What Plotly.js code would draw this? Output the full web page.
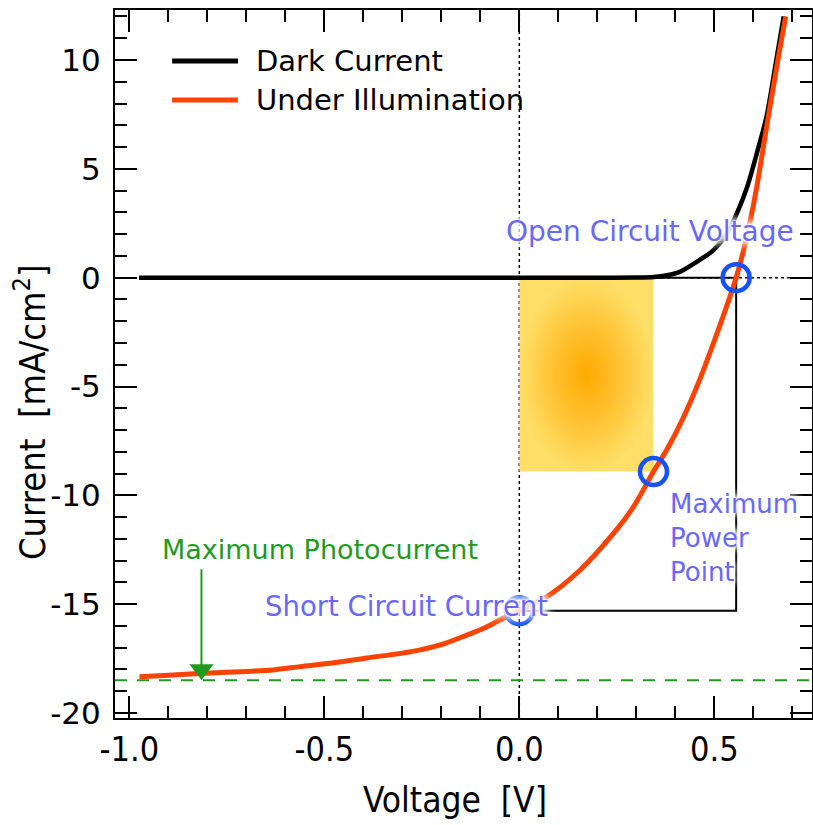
<!DOCTYPE html>
<html>
<head>
<meta charset="utf-8">
<script src="https://cdn.plot.ly/plotly-3.0.1.min.js"></script>
<style>
  html, body { margin: 0; padding: 0; background: #fff; }
  #chart { width: 813px; height: 825px; }
</style>
</head>
<body>
<div id="chart"></div>
<script>
// Solar cell I–V characteristics: dark current and current under illumination
const seriesNames = ['Dark Current', 'Under Illumination'];

const darkV = [-0.975, -0.8, -0.6, -0.4, -0.2, 0.0, 0.2, 0.3, 0.345, 0.379, 0.413, 0.456, 0.498, 0.533, 0.558, 0.584, 0.618, 0.634, 0.659, 0.678];
const darkI = [0, 0, 0, 0, 0, 0, 0, 0.005, 0.03, 0.11, 0.28, 0.74, 1.27, 2.04, 2.96, 4.15, 6.3, 7.4, 10.0, 12.0];

const lightV = [-0.974, -0.9, -0.792, -0.7, -0.631, -0.562, -0.47, -0.39, -0.3, -0.254, -0.19, -0.133, -0.09, -0.049, 0.0, 0.071, 0.156, 0.242, 0.293, 0.344, 0.38, 0.42, 0.46, 0.50, 0.53, 0.556, 0.575, 0.592, 0.609, 0.637, 0.665, 0.683];
const lightI = [-18.33, -18.27, -18.16, -18.09, -18.02, -17.87, -17.68, -17.47, -17.25, -17.10, -16.80, -16.41, -16.10, -15.72, -15.30, -14.65, -13.43, -11.74, -10.52, -8.91, -7.85, -6.45, -4.8, -2.9, -1.4, 0.0, 1.25, 2.6, 4.18, 7.24, 10.2, 12.0];

// Characteristic points of the illuminated curve
const Voc = 0.556;     // open circuit voltage [V]
const Isc = -15.3;     // short circuit current [mA/cm2]
const Vmp = 0.344;     // maximum power point voltage
const Imp = -8.91;     // maximum power point current
const Iph = -18.5;     // maximum photocurrent level
const photoArrowV = -0.815;
const photoArrowTail = -13.4;

const xTickVals = [-1.0, -0.5, 0.0, 0.5];
const xTickText = ['-1.0', '-0.5', '0.0', '0.5'];
const yTickVals = [10, 5, 0, -5, -10, -15, -20];
const yTickText = ['10', '5', '0', '-5', '-10', '-15', '-20'];

const xTitle = 'Voltage  [V]';
const yTitle = 'Current  [mA/cm<sup>2</sup>]';
const labelOC = 'Open Circuit Voltage';
const labelMP = 'Maximum<br>Power<br>Point';
const labelSC = 'Short Circuit Current';
const labelPh = 'Maximum Photocurrent';

const BLACK = '#000000';
const RED = '#ff4200';
const BLUE_RING = '#1652ff';
const BLUE_TEXT = '#6868ff';
const GREEN = '#1f9a1f';

const mainFont = 'DejaVu Sans, Verdana, sans-serif';
const narrowFont = 'DejaVu Sans Condensed, Liberation Sans Narrow, Roboto Condensed, Roboto, sans-serif';
const halo = '0 0 2px #fff, 0 0 2px #fff, 0 0 4px #fff, 0 0 6px #fff, 0 0 8px #fff, 0 0 10px #fff, 0 0 12px #fff, 0 0 14px #fff';

// arrowhead sits just above the photocurrent level
const headOffset = 0.5;

const traces = [
  {
    // power rectangle between origin and maximum power point
    x: [0, Vmp, Vmp, 0, 0],
    y: [0, 0, Imp, Imp, 0],
    mode: 'lines',
    line: { width: 0 },
    fill: 'toself',
    fillgradient: {
      type: 'radial',
      colorscale: [[0, '#ffaa00'], [0.5, '#ffc232'], [1, '#ffdf68']]
    },
    hoverinfo: 'skip',
    showlegend: false
  },
  {
    x: darkV, y: darkI, name: seriesNames[0],
    mode: 'lines',
    line: { color: BLACK, width: 4.5, shape: 'spline', smoothing: 0.8 },
    showlegend: false
  },
  {
    x: lightV, y: lightI, name: seriesNames[1],
    mode: 'lines',
    line: { color: RED, width: 5, shape: 'spline', smoothing: 0.8 },
    showlegend: false
  },
  {
    x: [Voc, Vmp, 0],
    y: [0, Imp, Isc],
    mode: 'markers',
    marker: { symbol: 'circle-open', size: 27, color: BLUE_RING, line: { width: 4.5, color: BLUE_RING } },
    showlegend: false
  },
  {
    // arrowhead marking the photocurrent level
    x: [photoArrowV], y: [Iph + headOffset],
    mode: 'markers',
    marker: { symbol: 'triangle-down', size: 21, color: GREEN },
    showlegend: false
  }
];

const shapes = [
  // zero lines
  { type: 'line', layer: 'below', xref: 'x', yref: 'paper', x0: 0, x1: 0, y0: 0, y1: 1,
    line: { color: BLACK, width: 1.5, dash: 'dot' } },
  { type: 'line', layer: 'below', xref: 'paper', yref: 'y', x0: 0, x1: 1, y0: 0, y1: 0,
    line: { color: BLACK, width: 1.5, dash: 'dot' } },
  // Voc / Isc rectangle
  { type: 'path', layer: 'below', xref: 'x', yref: 'y',
    path: `M 0,0 L ${Voc},0 L ${Voc},${Isc} L 0,${Isc}`,
    line: { color: BLACK, width: 2 } },
  // photocurrent level
  { type: 'line', layer: 'below', xref: 'paper', yref: 'y', x0: 0, x1: 1, y0: Iph, y1: Iph,
    line: { color: GREEN, width: 2, dash: '12px,10px' } },
  // arrow shaft
  { type: 'line', xref: 'x', yref: 'y', x0: photoArrowV, x1: photoArrowV, y0: photoArrowTail, y1: Iph + headOffset,
    line: { color: GREEN, width: 2 } },
  // legend samples
  { type: 'line', xref: 'paper', yref: 'paper', x0: 0.082, x1: 0.1765, y0: 0.928, y1: 0.928,
    line: { color: BLACK, width: 5 } },
  { type: 'line', xref: 'paper', yref: 'paper', x0: 0.082, x1: 0.1765, y0: 0.873, y1: 0.873,
    line: { color: RED, width: 5 } }
];

const annotations = [
  // legend entries
  { xref: 'paper', yref: 'paper', x: 0.2, y: 0.928, xanchor: 'left', yanchor: 'middle',
    text: seriesNames[0], showarrow: false, font: { family: mainFont, size: 29, color: BLACK } },
  { xref: 'paper', yref: 'paper', x: 0.2, y: 0.873, xanchor: 'left', yanchor: 'middle',
    text: seriesNames[1], showarrow: false, font: { family: mainFont, size: 29, color: BLACK } },
  // axis titles
  { xref: 'paper', yref: 'paper', x: 0.488, y: -0.116, xanchor: 'center', yanchor: 'middle',
    text: xTitle, showarrow: false, font: { family: narrowFont, size: 35, color: BLACK } },
  { xref: 'paper', yref: 'paper', x: -0.122, y: 0.432, xanchor: 'center', yanchor: 'middle',
    text: yTitle, textangle: -90, showarrow: false, font: { family: narrowFont, size: 36, color: BLACK } },
  // point labels
  { x: 0.335, y: 2.1, text: labelOC, showarrow: false,
    font: { family: mainFont, size: 28, color: BLUE_TEXT, shadow: halo } },
  { x: 0.381, y: -11.95, text: labelMP, showarrow: false, xanchor: 'left', align: 'left',
    font: { family: mainFont, size: 26, color: BLUE_TEXT, shadow: halo } },
  { x: -0.288, y: -15.08, text: labelSC, showarrow: false,
    font: { family: mainFont, size: 27.5, color: BLUE_TEXT, shadow: halo } },
  { x: -0.511, y: -12.47, text: labelPh, showarrow: false,
    font: { family: mainFont, size: 27, color: GREEN } }
];

const axisCommon = {
  showline: true, linecolor: BLACK, linewidth: 2, mirror: 'allticks',
  ticks: 'inside', ticklen: 22, tickwidth: 2, tickcolor: BLACK,
  showgrid: false, zeroline: false
};

const layout = {
  width: 813, height: 825,
  margin: { l: 115, r: 1, t: 10, b: 107 },
  paper_bgcolor: '#ffffff', plot_bgcolor: '#ffffff',
  showlegend: false,
  xaxis: Object.assign({}, axisCommon, {
    range: [-1.0367, 0.7505],
    tickmode: 'array', tickvals: xTickVals, ticktext: xTickText,
    minor: { dtick: 0.1, tick0: 0, ticks: 'inside', ticklen: 12, tickwidth: 2, tickcolor: BLACK },
    tickfont: { family: narrowFont, size: 34, color: BLACK }
  }),
  yaxis: Object.assign({}, axisCommon, {
    range: [-20.23, 12.297],
    tickmode: 'array', tickvals: yTickVals, ticktext: yTickText,
    ticklabelstandoff: 6,
    minor: { dtick: 1, tick0: 0, ticks: 'inside', ticklen: 12, tickwidth: 2, tickcolor: BLACK },
    tickfont: { family: mainFont, size: 31, color: BLACK }
  }),
  shapes: shapes,
  annotations: annotations
};

Plotly.newPlot('chart', traces, layout, { staticPlot: true });
</script>
</body>
</html>
